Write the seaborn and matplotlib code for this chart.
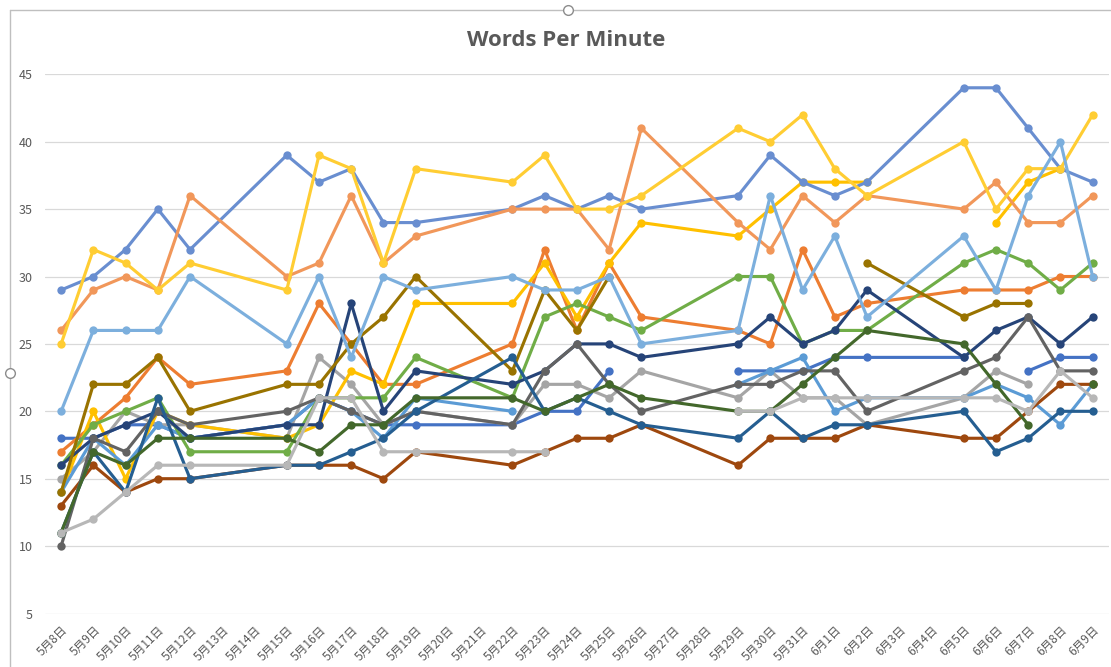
import numpy as np
import pandas as pd
import matplotlib
matplotlib.use("Agg")
import matplotlib.pyplot as plt
from matplotlib.lines import Line2D
import seaborn as sns

N = None

# every calendar day on the category axis
all_days = [f"5月{d}日" for d in range(8, 32)] + [f"6月{d}日" for d in range(1, 10)]

# days that actually have a score (weekdays only)
score_days = ["5月8日", "5月9日", "5月10日", "5月11日", "5月12日",
              "5月15日", "5月16日", "5月17日", "5月18日", "5月19日",
              "5月22日", "5月23日", "5月24日", "5月25日", "5月26日",
              "5月29日", "5月30日", "5月31日", "6月1日", "6月2日",
              "6月5日", "6月6日", "6月7日", "6月8日", "6月9日"]

# words per minute, one list per series (None = no score that day)
s01 = [18, 18, 19, 19, 18, 19, 21, 20, 19, 19, 19, 20, 20, 23, N, 23, 23, 23, 24, 24, 24, N, 23, 24, 24]
s02 = [17, 19, 21, 24, 22, 23, 28, 25, 22, 22, 25, 32, 26, 31, 27, 26, 25, 32, 27, 28, 29, 29, 29, 30, 30]
s03 = [15, 17, 20, 19, 19, 18, 24, 22, 19, 20, 19, 22, 22, 21, 23, 21, 23, 21, 21, 19, 21, 23, 22, N, N]
s04 = [14, 20, 15, 20, 19, 18, 19, 23, 22, 28, 28, 31, 27, 31, 34, 33, 35, 37, 37, 37, N, 34, 37, 38, N]
s05 = [14, 18, 16, 19, 18, 19, 21, 20, 18, 21, 20, N, N, N, N, 22, 23, 24, 20, 21, 21, 22, 21, 19, 22]
s06 = [16, 19, 20, 21, 17, 17, 21, 21, 21, 24, 21, 27, 28, 27, 26, 30, 30, 25, 26, 26, 31, 32, 31, 29, 31]
s07 = [16, 18, 19, 20, 18, 19, 19, 28, 20, 23, 22, 23, 25, 25, 24, 25, 27, 25, 26, 29, 24, 26, 27, 25, 27]
s08 = [13, 16, 14, 15, 15, 16, 16, 16, 15, 17, 16, 17, 18, 18, 19, 16, 18, 18, 18, 19, 18, 18, 20, 22, 22]
s09 = [10, 18, 17, 20, 19, 20, 21, 20, 19, 20, 19, 23, 25, 22, 20, 22, 22, 23, 23, 20, 23, 24, 27, 23, 23]
s10 = [14, 22, 22, 24, 20, 22, 22, 25, 27, 30, 23, 29, 26, 30, N, N, N, N, N, 31, 27, 28, 28, N, N]
s11 = [11, 17, 14, 21, 15, 16, 16, 17, 18, 20, 24, 20, 21, 20, 19, 18, 20, 18, 19, 19, 20, 17, 18, 20, 20]
s12 = [11, 17, 16, 18, 18, 18, 17, 19, 19, 21, 21, 20, 21, 22, 21, 20, 20, 22, 24, 26, 25, 22, 19, N, 22]
s13 = [29, 30, 32, 35, 32, 39, 37, 38, 34, 34, 35, 36, 35, 36, 35, 36, 39, 37, 36, 37, 44, 44, 41, 38, 37]
s14 = [26, 29, 30, 29, 36, 30, 31, 36, 31, 33, 35, 35, 35, 32, 41, 34, 32, 36, 34, 36, 35, 37, 34, 34, 36]
s15 = [11, 12, 14, 16, 16, 16, 21, 21, 17, 17, 17, 17, N, N, N, 20, 20, 21, 21, 21, 21, 21, 20, 23, 21]
s16 = [25, 32, 31, 29, 31, 29, 39, 38, 31, 38, 37, 39, 35, 35, 36, 41, 40, 42, 38, 36, 40, 35, 38, 38, 42]
s17 = [20, 26, 26, 26, 30, 25, 30, 24, 30, 29, 30, 29, 29, 30, 25, 26, 36, 29, 33, 27, 33, 29, 36, 40, 30]

series = {"系列1": s01, "系列2": s02, "系列3": s03, "系列4": s04, "系列5": s05,
          "系列6": s06, "系列7": s07, "系列8": s08, "系列9": s09, "系列10": s10,
          "系列11": s11, "系列12": s12, "系列13": s13, "系列14": s14, "系列15": s15,
          "系列16": s16, "系列17": s17}

# office default series colours
colors = ["#4472C4", "#ED7D31", "#A5A5A5", "#FFC000", "#5B9BD5", "#70AD47",
          "#264478", "#9E480E", "#636363", "#997300", "#255E91", "#43682B",
          "#698ED0", "#F1975A", "#B7B7B7", "#FFCD33", "#7CAFDD"]
palette = dict(zip(series.keys(), colors))

# long table; a blank day ends a line segment (gap), weekends are just skipped
rows = []
for name, vals in series.items():
    seg = 0
    for day, v in zip(score_days, vals):
        if v is None:
            seg += 1
            continue
        rows.append({"series": name, "seg": f"{name}-{seg}",
                     "pos": all_days.index(day), "wpm": v})
df = pd.DataFrame(rows)

sns.set_theme(style="white")
plt.rcParams["font.family"] = ["Noto Sans CJK JP", "DejaVu Sans"]

fig = plt.figure(figsize=(11.11, 6.67), dpi=100)
ax = fig.add_axes([0.0405, 0.0802, 0.9575, 0.8084])

sns.lineplot(data=df, x="pos", y="wpm", hue="series", units="seg",
             estimator=None, palette=palette, hue_order=list(series.keys()),
             marker="o", markersize=6, markeredgewidth=0, linewidth=2.25,
             legend=False, ax=ax)

ax.set_xlim(-0.5, len(all_days) - 0.5)
ax.set_ylim(5, 45)
ax.set_yticks(range(5, 50, 5))
ax.set_xticks(range(len(all_days)))
ax.set_xticklabels(all_days, rotation=45, ha="right", va="top",
                   rotation_mode="anchor")
ax.tick_params(axis="y", length=0, pad=9, labelsize=9, labelcolor="#595959")
ax.tick_params(axis="x", length=0, pad=7, labelsize=8.5, labelcolor="#595959")
ax.set_xlabel("")
ax.set_ylabel("")
ax.yaxis.grid(True, color="#D9D9D9", linewidth=0.9)
ax.xaxis.grid(False)
ax.set_axisbelow(True)
for sp in ax.spines.values():
    sp.set_visible(False)

fig.text(0.51, 0.94, "Words Per Minute", ha="center", va="center",
         fontsize=16, fontweight="bold", color="#595959",
         family=["Open Sans", "DejaVu Sans"])

# chart frame and selection handles
W, H = 1111, 667
fig.add_artist(Line2D([10 / W, 10 / W], [0, 1 - 10 / H], transform=fig.transFigure,
                      color="#BFBFBF", linewidth=1))
fig.add_artist(Line2D([10 / W, 1], [1 - 10 / H, 1 - 10 / H], transform=fig.transFigure,
                      color="#BFBFBF", linewidth=1))
fig.add_artist(Line2D([568 / W, 10 / W], [1 - 10 / H, 1 - 373 / H], transform=fig.transFigure,
                      linestyle="none", marker="o", markersize=7,
                      markerfacecolor="white", markeredgecolor="#8C8C8C"))

fig.savefig("out.png", dpi=100)
